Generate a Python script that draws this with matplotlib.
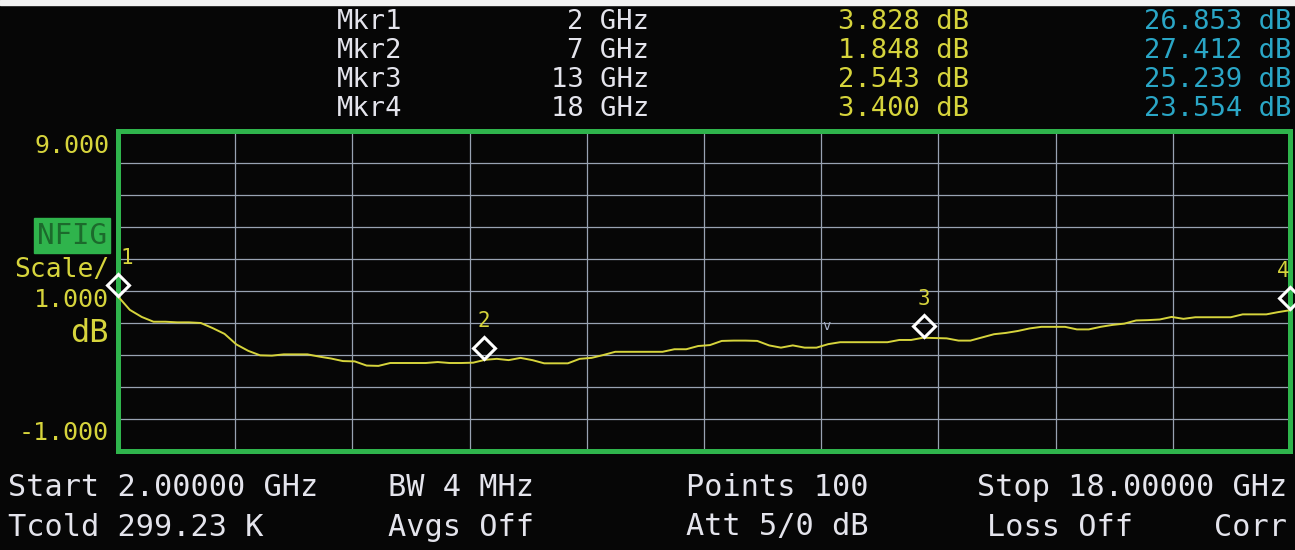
'''
Replot of a noise figure analyser screen: NFIG trace from 2 to 18 GHz
with four markers and the instrument status text around the graticule.
'''

import matplotlib
matplotlib.use('Agg')
import matplotlib.pyplot as plt
from matplotlib.transforms import offset_copy
from matplotlib.patches import Rectangle

f_start = 2.0
f_stop = 18.0
n_points = 100

# noise figure trace (dB), one value per sweep point
nfig_db = [3.83, 3.41, 3.19, 3.04, 3.04, 3.02, 3.02, 3.00, 2.84, 2.66,
           2.33, 2.13, 1.99, 1.98, 2.02, 2.02, 2.02, 1.95, 1.89, 1.81,
           1.80, 1.67, 1.66, 1.75, 1.75, 1.75, 1.75, 1.78, 1.75, 1.75,
           1.76, 1.85, 1.88, 1.84, 1.91, 1.84, 1.74, 1.74, 1.74, 1.88,
           1.91, 2.00, 2.10, 2.10, 2.10, 2.10, 2.10, 2.18, 2.18, 2.28,
           2.31, 2.44, 2.45, 2.45, 2.44, 2.30, 2.23, 2.30, 2.23, 2.23,
           2.34, 2.40, 2.40, 2.40, 2.40, 2.40, 2.47, 2.47, 2.54, 2.53,
           2.52, 2.45, 2.45, 2.55, 2.65, 2.69, 2.75, 2.83, 2.88, 2.88,
           2.88, 2.80, 2.80, 2.88, 2.94, 2.98, 3.08, 3.09, 3.11, 3.19,
           3.13, 3.18, 3.18, 3.18, 3.18, 3.27, 3.27, 3.27, 3.34, 3.40]

freq_ghz = [f_start + i * (f_stop - f_start) / (n_points - 1) for i in range(n_points)]

mkr_names = ['Mkr1', 'Mkr2', 'Mkr3', 'Mkr4']
mkr_freq = [2, 7, 13, 18]
mkr_nfig = [3.828, 1.848, 2.543, 3.400]
mkr_gain = [26.853, 27.412, 25.239, 23.554]

y_top = 9.0
y_bottom = -1.0

status_top = ['Start 2.00000 GHz', 'BW 4 MHz', 'Points 100', 'Stop 18.00000 GHz']
status_bottom = ['Tcold 299.23 K', 'Avgs Off', 'Att 5/0 dB', 'Loss Off', 'Corr']

# ====== Colours ======
BG = '#060606'
YEL = '#d6d43c'
WHITE = '#e4e4ec'
CYAN = '#2aa6c6'
GREEN = '#2fb44c'
GRID = '#98a2b2'
MONO = 'DejaVu Sans Mono'

W, H = 1295, 550


def px(x, y):
	# pixel position on the screen -> figure fraction
	return x / W, 1 - y / H


def draw_screen(fout):

	fig = plt.figure(figsize=(W / 100, H / 100), dpi=100, facecolor=BG)

	# thin light strip at the very top of the photo
	fig.patches.append(Rectangle((0, 1 - 5 / H), 1, 5 / H, transform=fig.transFigure,
	                             color='#f2f2f2', zorder=0))

	# ===== Graticule =====
	x0, x1, yt, yb = 118, 1290, 131, 451
	ax = fig.add_axes([x0 / W, 1 - yb / H, (x1 - x0) / W, (yb - yt) / H])
	ax.set_facecolor(BG)
	ax.set_xlim(f_start, f_stop)
	ax.set_ylim(y_bottom, y_top)

	step_f = (f_stop - f_start) / 10
	for k in range(1, 10):
		ax.axvline(f_start + k * step_f, color=GRID, lw=0.9, zorder=1)
		ax.axhline(y_bottom + k, color=GRID, lw=0.9, zorder=1)

	ax.set_xticks([])
	ax.set_yticks([])
	for s in ax.spines.values():
		s.set_color(GREEN)
		s.set_linewidth(3.6)
		s.set_zorder(3)

	# trace
	ax.plot(freq_ghz, nfig_db, color=YEL, lw=1.4, zorder=4)

	# markers: diamond tip sits on the trace
	up = offset_copy(ax.transData, fig=fig, y=8.5, units='points')
	for i in range(len(mkr_freq)):
		ax.plot(mkr_freq[i], mkr_nfig[i], marker='D', ms=11, mfc='none', mec='white',
		        mew=2.2, transform=up, clip_on=False, zorder=6)

	lab = offset_copy(ax.transData, fig=fig, y=28, units='points')
	lab_dx = [6, 0, 0, -5]
	for i in range(len(mkr_freq)):
		t = offset_copy(lab, fig=fig, x=lab_dx[i], units='points')
		ax.text(mkr_freq[i], mkr_nfig[i], str(i + 1), transform=t, color=YEL,
		        fontsize=15, family=MONO, ha='center', va='center', clip_on=False, zorder=6)

	# small sweep caret
	ax.text(11.67, 2.91, 'v', color='#a8b0c8', fontsize=10, family=MONO,
	        ha='center', va='center', zorder=5)

	# ===== Left scale text =====
	fig.text(*px(109, 146), '%.3f' % y_top, color=YEL, fontsize=18, family=MONO, ha='right', va='center')
	fig.text(*px(109, 433), '%.3f' % y_bottom, color=YEL, fontsize=18, family=MONO, ha='right', va='center')
	fig.patches.append(Rectangle(px(34, 253), 76 / W, 35 / H, transform=fig.transFigure,
	                             color=GREEN, zorder=1))
	fig.text(*px(72, 236), 'NFIG', color='#1c6a2c', fontsize=21, family=MONO, ha='center', va='center')
	fig.text(*px(109, 270), 'Scale/', color=YEL, fontsize=19, family=MONO, ha='right', va='center')
	fig.text(*px(109, 300), '1.000', color=YEL, fontsize=18, family=MONO, ha='right', va='center')
	fig.text(*px(109, 334), 'dB', color=YEL, fontsize=23, family=MONO, ha='right', va='center')

	# ===== Marker table =====
	for i in range(len(mkr_names)):
		y = 22 + i * 29
		fig.text(*px(337, y), mkr_names[i], color=WHITE, fontsize=19.5, family=MONO, ha='left', va='center')
		fig.text(*px(649, y), '%d GHz' % mkr_freq[i], color=WHITE, fontsize=19.5, family=MONO, ha='right', va='center')
		fig.text(*px(969, y), '%.3f dB' % mkr_nfig[i], color=YEL, fontsize=19.5, family=MONO, ha='right', va='center')
		fig.text(*px(1291, y), '%.3f dB' % mkr_gain[i], color=CYAN, fontsize=19.5, family=MONO, ha='right', va='center')

	# ===== Status lines =====
	x_top = [8, 388, 686, None]
	for txt, x in zip(status_top, x_top):
		if x is None:
			fig.text(*px(1287, 488), txt, color=WHITE, fontsize=21.8, family=MONO, ha='right', va='center')
		else:
			fig.text(*px(x, 488), txt, color=WHITE, fontsize=21.8, family=MONO, ha='left', va='center')

	x_bot = [8, 388, 686, 987, None]
	for txt, x in zip(status_bottom, x_bot):
		if x is None:
			fig.text(*px(1287, 527), txt, color=WHITE, fontsize=21.8, family=MONO, ha='right', va='center')
		else:
			fig.text(*px(x, 527), txt, color=WHITE, fontsize=21.8, family=MONO, ha='left', va='center')

	fig.savefig(fout, dpi=100, facecolor=BG)
	print(f"[-] Plot generated in: {fout}")


if __name__ == "__main__":
	draw_screen('out.png')
